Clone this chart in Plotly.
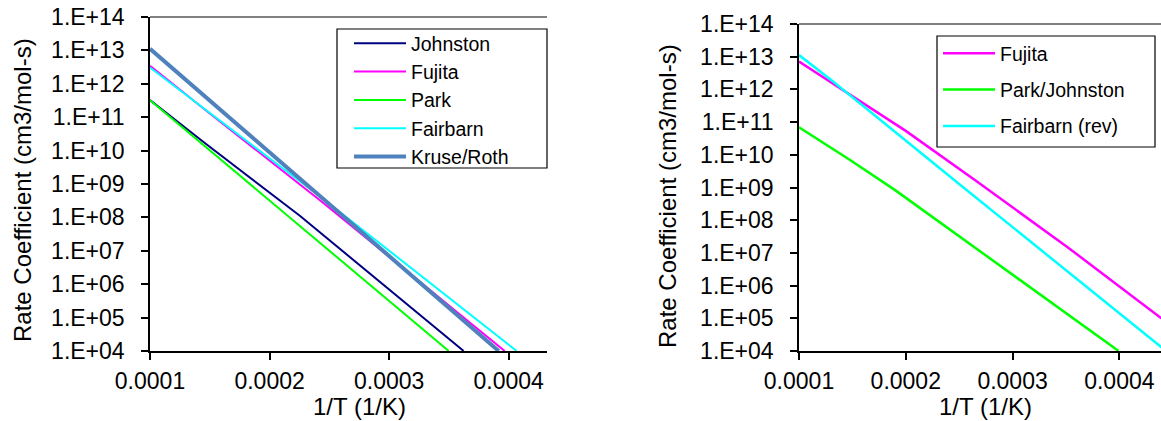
import plotly.graph_objects as go

# ---------------- data ----------------
# Left panel
johnston_x = [0.0001, 0.000145, 0.0002253, 0.0003623]
johnston_k = [3.24e11, 1.78e10, 1.12e8, 1.0e4]

fujita_x = [0.0001, 0.000145, 0.0002426, 0.0003966]
fujita_k = [3.47e12, 1.78e11, 3.16e8, 1.0e4]

park_x = [0.0001, 0.0002253, 0.0003498]
park_k = [3.24e11, 5.6e7, 1.0e4]

fairbarn_x = [0.0001, 0.0002487, 0.0004066]
fairbarn_k = [3.09e12, 2.8e8, 1.0e4]

kruse_x = [0.0001, 0.0002671, 0.0003916]
kruse_k = [1.12e13, 7.5e7, 1.0e4]

# Right panel
fujita2_x = [0.0001, 0.0002003, 0.000265, 0.0003512, 0.0004393]
fujita2_k = [7.1e12, 5.3e10, 1.66e9, 1.52e7, 1.0e5]

parkjohn_x = [0.0001, 0.0001478, 0.00019, 0.0002509, 0.0003993]
parkjohn_k = [6.9e10, 6.9e9, 8.3e8, 3.1e7, 1.0e4]

fairrev_x = [0.0001, 0.0001322, 0.000254, 0.00044]
fairrev_k = [1.12e13, 1.7e12, 1.0e9, 1.26e4]

# axis ticks
x_tickvals = [0.0001, 0.0002, 0.0003, 0.0004]
x_ticktext = ["0.0001", "0.0002", "0.0003", "0.0004"]
y_tickvals = [1e4, 1e5, 1e6, 1e7, 1e8, 1e9, 1e10, 1e11, 1e12, 1e13, 1e14]
y_ticktext = ["1.E+04", "1.E+05", "1.E+06", "1.E+07", "1.E+08", "1.E+09",
              "1.E+10", "1.E+11", "1.E+12", "1.E+13", "1.E+14"]

x_title = "1/T (1/K)"
y_title = "Rate Coefficient (cm3/mol-s)"

# ---------------- figure ----------------
W, H = 1161, 421
FONT = "Arial, Liberation Sans, sans-serif"

NAVY = "#000080"
MAGENTA = "#FF00FF"
GREEN = "#00FF00"
CYAN = "#00FFFF"
STEEL = "#4F81BD"

fig = go.Figure()

def add(x, y, name, color, width, xa, ya, legend):
    fig.add_trace(go.Scatter(
        x=x, y=y, name=name, mode="lines",
        line=dict(color=color, width=width),
        xaxis=xa, yaxis=ya, legend=legend, legendgroup=name + legend,
        hoverinfo="skip",
    ))

add(johnston_x, johnston_k, "Johnston", NAVY, 2, "x", "y", "legend")
add(fujita_x, fujita_k, "Fujita", MAGENTA, 2, "x", "y", "legend")
add(park_x, park_k, "Park", GREEN, 2, "x", "y", "legend")
add(fairbarn_x, fairbarn_k, "Fairbarn", CYAN, 2, "x", "y", "legend")
add(kruse_x, kruse_k, "Kruse/Roth", STEEL, 4, "x", "y", "legend")

add(fujita2_x, fujita2_k, "Fujita", MAGENTA, 2.5, "x2", "y2", "legend2")
add(parkjohn_x, parkjohn_k, "Park/Johnston", GREEN, 2.5, "x2", "y2", "legend2")
add(fairrev_x, fairrev_k, "Fairbarn (rev)", CYAN, 2.5, "x2", "y2", "legend2")

def px_x(p):
    return p / W

def px_y(p):
    return (H - p) / H

tickfont = dict(family=FONT, size=23, color="black")
titlefont = dict(family=FONT, size=24, color="black")
legfont = dict(family=FONT, size=19.5, color="black")

def xaxis(domain, xmax, anchor):
    return dict(
        domain=domain, anchor=anchor, range=[0.0001, xmax],
        tickmode="array", tickvals=x_tickvals, ticktext=x_ticktext,
        ticks="outside", ticklen=7, tickwidth=1.5, tickcolor="black",
        showline=True, linecolor="black", linewidth=1.5,
        showgrid=False, zeroline=False, tickfont=tickfont,
        ticklabelstandoff=2,
        automargin=False, fixedrange=True,
    )

def yaxis(domain, anchor):
    return dict(
        domain=domain, anchor=anchor, type="log", range=[4, 14],
        tickmode="array", tickvals=y_tickvals, ticktext=y_ticktext,
        ticks="outside", ticklen=7, tickwidth=1.5, tickcolor="black",
        showline=True, linecolor="black", linewidth=1.5,
        showgrid=False, zeroline=False, tickfont=tickfont,
        ticklabelstandoff=12,
        automargin=False, fixedrange=True,
    )

fig.update_layout(
    width=W, height=H,
    margin=dict(l=0, r=0, t=0, b=0, pad=0),
    paper_bgcolor="white", plot_bgcolor="white",
    font=dict(family=FONT, color="black"),
    xaxis=xaxis([px_x(150), px_x(547)], 0.000432, "y"),
    yaxis=yaxis([px_y(351), px_y(17)], "x"),
    xaxis2=xaxis([px_x(799), 1.0], 0.000439, "y2"),
    yaxis2=yaxis([px_y(351), px_y(24)], "x2"),
    legend=dict(
        x=px_x(349), y=px_y(24), xanchor="left", yanchor="top",
        bgcolor="rgba(0,0,0,0)", borderwidth=0,
        font=legfont, itemwidth=52, tracegroupgap=0,
        itemclick=False, itemdoubleclick=False,
    ),
    legend2=dict(
        x=px_x(938), y=px_y(34), xanchor="left", yanchor="top",
        bgcolor="rgba(0,0,0,0)", borderwidth=0,
        font=legfont, itemwidth=52, tracegroupgap=8,
        itemclick=False, itemdoubleclick=False,
    ),
    showlegend=True,
)

# axis titles
for cx, cy in ((359, 406), (985, 406)):
    fig.add_annotation(text=x_title, xref="paper", yref="paper",
                       x=px_x(cx), y=px_y(cy), xanchor="center", yanchor="middle",
                       showarrow=False, font=titlefont)
for cx, cy in ((23, 190), (667, 196)):
    fig.add_annotation(text=y_title, xref="paper", yref="paper", textangle=-90,
                       x=px_x(cx), y=px_y(cy), xanchor="center", yanchor="middle",
                       showarrow=False, font=titlefont)

# legend frames
fig.add_shape(type="rect", xref="paper", yref="paper",
              x0=px_x(337), x1=px_x(547), y0=px_y(168), y1=px_y(29),
              line=dict(color="black", width=1.2), fillcolor="white", layer="above")
fig.add_shape(type="rect", xref="paper", yref="paper",
              x0=px_x(937), x1=px_x(1155), y0=px_y(147), y1=px_y(36),
              line=dict(color="black", width=1.2), fillcolor="white", layer="above")

# gray line along the top of each plot area (at 1.E+14)
for xr, yr in (("x domain", "y domain"), ("x2 domain", "y2 domain")):
    fig.add_shape(type="line", xref=xr, yref=yr, x0=0, x1=1, y0=1, y1=1,
                  line=dict(color="#808080", width=2), layer="above")

fig.write_html(
    "out.html",
    config={"displayModeBar": False},
    post_script="document.body.style.margin='0px';document.body.style.overflow='hidden';",
)
